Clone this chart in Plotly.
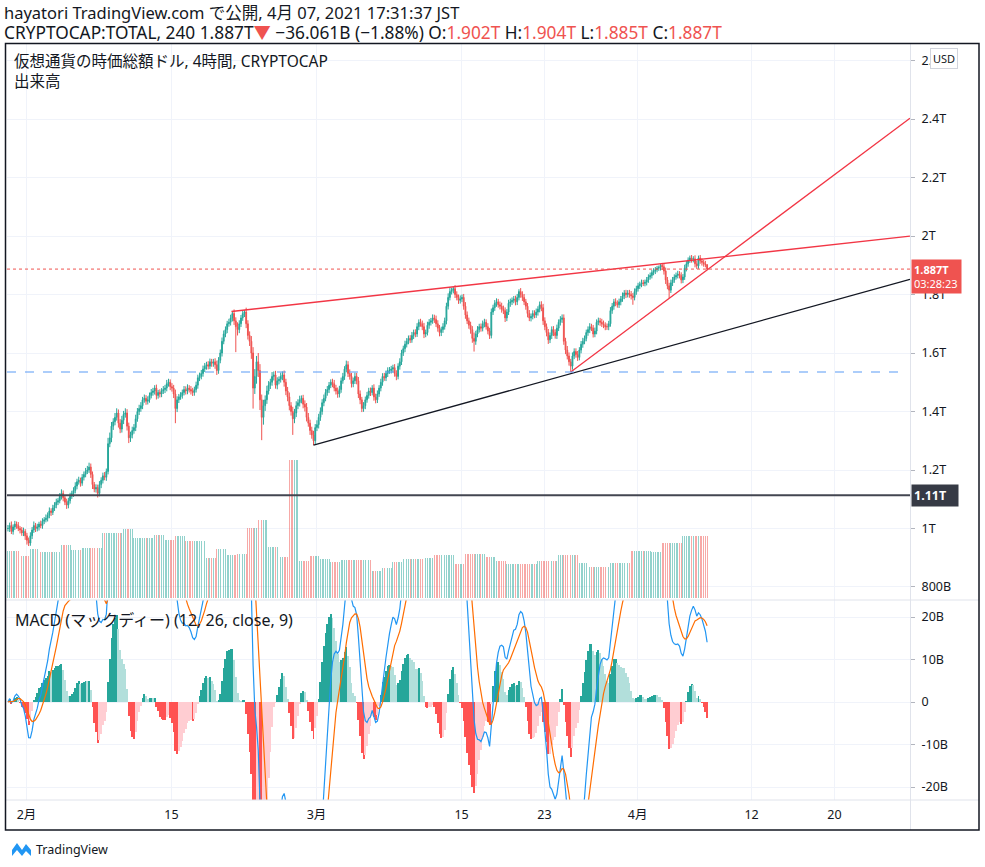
import numpy as np
import pandas as pd
import plotly.graph_objects as go

# ---- data (values in billions of USD) ----
# 4h closes, JST, first candle 2021-01-30 05:00, one row per day
first_open = 1000
closes = [
    1000, 1010, 990, 1005, 1015,
    1010, 1000, 995, 985, 990, 975,
    960, 950, 975, 995, 1010, 1000,
    1005, 1015, 1010, 1025, 1030, 1035,
    1045, 1060, 1055, 1070, 1080, 1090,
    1095, 1110, 1120, 1105, 1090, 1080,
    1095, 1110, 1120, 1130, 1145, 1160,
    1165, 1155, 1175, 1185, 1195, 1200,
    1210, 1185, 1150, 1135, 1140, 1120,
    1150, 1165, 1180, 1175, 1195, 1290,
    1310, 1350, 1365, 1380, 1395, 1360,
    1340, 1370, 1390, 1395, 1350, 1310,
    1320, 1335, 1345, 1375, 1400, 1410,
    1420, 1440, 1445, 1435, 1440, 1455,
    1465, 1470, 1480, 1455, 1465, 1460,
    1470, 1475, 1480, 1495, 1500, 1485,
    1480, 1460, 1410, 1440, 1450, 1455,
    1465, 1475, 1470, 1480, 1475, 1470,
    1465, 1475, 1490, 1515, 1520, 1530,
    1545, 1555, 1560, 1555, 1570, 1565,
    1570, 1560, 1540, 1575, 1600, 1640,
    1665, 1680, 1700, 1705, 1720, 1735,
    1710, 1690, 1680, 1700, 1720, 1735,
    1740, 1700, 1660, 1640, 1600, 1480,
    1520, 1570, 1540, 1440, 1380, 1420,
    1440, 1470, 1490, 1500, 1520, 1525,
    1490, 1505, 1510, 1520, 1525, 1500,
    1470, 1450, 1420, 1400, 1375, 1395,
    1420, 1430, 1440, 1445, 1425, 1415,
    1380, 1360, 1335, 1320, 1300, 1345,
    1355, 1380, 1400, 1430, 1445, 1465,
    1475, 1490, 1500, 1495, 1480, 1470,
    1460, 1475, 1505, 1520, 1545, 1560,
    1530, 1520, 1495, 1505, 1520, 1505,
    1460, 1440, 1410, 1420, 1440, 1455,
    1470, 1465, 1480, 1450, 1440, 1460,
    1480, 1500, 1520, 1515, 1530, 1540,
    1540, 1545, 1550, 1530, 1520, 1555,
    1570, 1600, 1615, 1630, 1640, 1650,
    1645, 1660, 1670, 1665, 1690, 1705,
    1700, 1690, 1665, 1670, 1695, 1705,
    1710, 1720, 1715, 1700, 1685, 1670,
    1680, 1690, 1710, 1760, 1790, 1810,
    1815, 1820, 1800, 1790, 1780, 1785,
    1790, 1760, 1730, 1710, 1695, 1680,
    1650, 1640, 1665, 1680, 1690, 1685,
    1700, 1705, 1690, 1675, 1660, 1740,
    1755, 1770, 1775, 1765, 1760, 1750,
    1745, 1720, 1740, 1770, 1775, 1780,
    1785, 1775, 1790, 1810, 1800, 1790,
    1775, 1760, 1735, 1720, 1725, 1735,
    1730, 1740, 1750, 1765, 1755, 1710,
    1690, 1670, 1645, 1660, 1680, 1670,
    1660, 1685, 1705, 1715, 1720, 1640,
    1610, 1590, 1570, 1555, 1590, 1605,
    1595, 1585, 1610, 1630, 1640, 1650,
    1670, 1680, 1690, 1685, 1665, 1675,
    1705, 1710, 1705, 1700, 1695, 1690,
    1690, 1700, 1745, 1760, 1775, 1770,
    1765, 1775, 1785, 1795, 1805, 1800,
    1805, 1800, 1795, 1790, 1810, 1820,
    1830, 1835, 1840, 1838, 1842, 1850,
    1860, 1865, 1875, 1880, 1885, 1890,
    1892, 1900, 1895, 1880, 1850, 1830,
    1815, 1840, 1850, 1860, 1865, 1870,
    1865, 1850, 1860, 1890, 1905, 1918,
    1925, 1920, 1922, 1905, 1898, 1925,
    1915, 1910, 1905, 1902, 1887,
]
# wick above max(open, close)
wick_up = [
    12, 10, 14, 9, 11,
    9, 12, 8, 10, 13, 8,
    10, 9, 12, 10, 14, 9,
    11, 8, 12, 10, 9, 13,
    10, 12, 9, 11, 10, 12,
    9, 11, 14, 10, 8, 12,
    10, 12, 9, 11, 13, 10,
    12, 9, 11, 10, 12, 14,
    15, 12, 10, 9, 11, 10,
    12, 10, 11, 13, 10, 20,
    18, 14, 12, 15, 16, 12,
    14, 15, 12, 16, 13, 12,
    11, 13, 12, 14, 12, 13,
    12, 10, 13, 11, 12, 10,
    12, 11, 10, 12, 9, 11,
    10, 12, 11, 13, 12, 10,
    12, 11, 15, 12, 10, 11,
    10, 12, 11, 13, 10, 12,
    11, 10, 12, 11, 13, 12,
    12, 11, 10, 12, 11, 10,
    10, 12, 14, 11, 12, 13,
    12, 11, 10, 12, 11, 9,
    14, 12, 15, 12, 10, 11,
    7, 15, 12, 14, 18, 20,
    25, 20, 30, 22, 18, 20,
    15, 18, 14, 12, 15, 12,
    14, 12, 10, 13, 12, 15,
    12, 14, 15, 12, 16, 14,
    15, 12, 14, 10, 12, 13,
    14, 15, 12, 13, 14, 12,
    15, 12, 14, 12, 13, 12,
    12, 11, 10, 12, 13, 11,
    12, 13, 11, 12, 10, 14,
    12, 14, 12, 11, 13, 12,
    13, 12, 10, 12, 11, 12,
    11, 12, 10, 13, 11, 12,
    10, 12, 11, 12, 10, 11,
    12, 11, 10, 12, 11, 10,
    12, 11, 10, 12, 11, 10,
    11, 12, 10, 11, 12, 10,
    12, 11, 13, 10, 12, 11,
    10, 12, 11, 13, 12, 11,
    10, 12, 11, 12, 14, 12,
    8, 6, 12, 11, 10, 12,
    10, 12, 14, 12, 11, 12,
    12, 20, 11, 12, 10, 11,
    11, 12, 10, 12, 11, 12,
    10, 11, 12, 10, 11, 12,
    12, 11, 10, 12, 11, 10,
    10, 11, 12, 8, 12, 11,
    12, 10, 11, 12, 10, 11,
    11, 12, 10, 11, 12, 13,
    12, 11, 12, 10, 11, 12,
    11, 12, 10, 11, 12, 12,
    12, 14, 12, 10, 12, 11,
    11, 12, 10, 11, 12, 10,
    10, 11, 12, 10, 11, 12,
    10, 11, 10, 12, 11, 10,
    11, 10, 12, 11, 10, 12,
    10, 11, 10, 12, 10, 11,
    10, 11, 12, 10, 11, 10,
    10, 9, 11, 10, 9, 10,
    9, 10, 9, 10, 9, 8,
    7, 4, 8, 10, 12, 10,
    10, 11, 10, 9, 10, 11,
    10, 11, 10, 12, 10, 9,
    8, 10, 9, 12, 10, 8,
    10, 9, 8, 10, 2,
]
# wick below min(open, close)
wick_dn = [
    10, 12, 9, 11, 10,
    11, 9, 12, 10, 11, 14,
    15, 10, 9, 11, 10, 12,
    10, 12, 9, 11, 10, 9,
    11, 10, 12, 9, 10, 11,
    10, 9, 11, 12, 10, 13,
    11, 10, 9, 12, 10, 11,
    10, 12, 9, 11, 10, 9,
    10, 12, 15, 11, 12, 14,
    10, 12, 11, 10, 12, 10,
    12, 15, 13, 12, 11, 15,
    14, 12, 13, 11, 15, 18,
    14, 12, 11, 12, 10, 12,
    11, 12, 10, 12, 11, 10,
    10, 11, 12, 14, 11, 12,
    11, 10, 12, 11, 10, 12,
    12, 14, 50, 12, 11, 10,
    11, 10, 12, 11, 10, 12,
    12, 11, 10, 12, 11, 10,
    11, 10, 12, 11, 10, 12,
    12, 14, 15, 11, 10, 12,
    10, 11, 12, 10, 11, 12,
    14, 87, 20, 12, 11, 10,
    12, 15, 14, 16, 20, 70,
    20, 25, 22, 35, 78, 25,
    18, 14, 12, 13, 12, 14,
    12, 14, 12, 11, 13, 15,
    14, 15, 16, 14, 55, 15,
    14, 12, 13, 12, 14, 15,
    14, 12, 15, 13, 15, 12,
    12, 13, 12, 11, 12, 10,
    11, 12, 10, 12, 11, 12,
    13, 12, 11, 10, 12, 11,
    12, 11, 13, 12, 11, 12,
    14, 15, 12, 11, 12, 10,
    11, 12, 10, 13, 12, 11,
    10, 11, 12, 10, 11, 12,
    11, 10, 12, 11, 13, 10,
    12, 11, 10, 12, 11, 10,
    11, 10, 12, 11, 10, 12,
    10, 12, 14, 11, 10, 12,
    11, 10, 12, 11, 12, 13,
    12, 11, 10, 12, 11, 10,
    10, 11, 12, 10, 12, 11,
    11, 12, 13, 11, 12, 14,
    15, 35, 12, 11, 10, 12,
    11, 12, 10, 11, 12, 10,
    10, 11, 12, 10, 11, 12,
    12, 14, 11, 10, 12, 11,
    10, 12, 11, 10, 11, 12,
    11, 12, 13, 11, 12, 10,
    11, 10, 12, 11, 12, 14,
    12, 13, 14, 11, 12, 12,
    11, 12, 10, 11, 12, 12,
    14, 12, 13, 20, 12, 11,
    11, 12, 10, 11, 12, 10,
    10, 11, 12, 10, 12, 11,
    11, 10, 12, 11, 10, 12,
    11, 12, 10, 11, 12, 10,
    10, 11, 12, 10, 11, 12,
    10, 11, 12, 25, 10, 11,
    10, 11, 10, 9, 10, 11,
    10, 9, 10, 9, 10, 9,
    9, 10, 11, 12, 14, 12,
    27, 10, 11, 10, 9, 10,
    10, 12, 11, 10, 11, 10,
    10, 11, 10, 12, 11, 10,
    10, 11, 10, 9, 2,
]
# daily volume (UTC days from 2021-01-29), relative units
volume_start = "2021-01-29"
daily_volume = [
    47, 47, 42,
    49, 46, 46, 53, 48, 50, 50, 65, 65, 69, 60, 60, 63, 58,
    62, 57, 57, 40, 49, 43, 44, 70, 78, 51, 41, 138, 37, 42,
    39, 36, 38, 38, 38, 27, 30, 36, 39, 39, 40, 43, 43, 34, 44,
    44, 41, 37, 34, 34, 34, 37, 37, 43, 43, 35, 31, 31, 35, 35, 47,
    47, 46, 55, 55, 62, 62, 62,
]

x_tickvals = ["2021-02-01", "2021-02-15", "2021-03-01", "2021-03-15",
              "2021-03-23", "2021-04-01", "2021-04-12", "2021-04-20"]
x_ticktext = ["2月", "15", "3月", "15", "23", "4月", "12", "20"]
price_tickvals = [800, 1000, 1200, 1400, 1600, 1800, 2000, 2200, 2400, 2600]
price_ticktext = ["800B", "1T", "1.2T", "1.4T", "1.6T", "1.8T", "2T", "2.2T", "2.4T", "2.6T"]
macd_tickvals = [-20, -10, 0, 10, 20]
macd_ticktext = ["-20B", "-10B", "0", "10B", "20B"]

# drawings: (start date, start price, end date, end price)
red_top = ("2021-02-20 19:00", 1742, "2021-04-27 07:00", 2000)
red_rise = ("2021-03-25 13:00", 1535, "2021-04-27 07:00", 2403)
black_rise = ("2021-02-28 17:00", 1285, "2021-04-27 07:00", 1852)
blue_level = 1535
black_level = 1114
last_price = 1887

# ---- geometry, in screenshot px ----
W, H = 985, 867
L, R, T, B = 7, 910, 43, 800
SPLIT = 600


def px(x):
    return (x - L) / (R - L)


def py(y):
    return (B - y) / (B - T)


UP, DN = "#26a69a", "#ef5350"
TXT = "#131722"
GRID = "#f0f3fa"
FONT = "Noto Sans, Noto Sans CJK JP, sans-serif"

t = pd.date_range("2021-01-30 05:00", periods=len(closes), freq="4h")
close = np.array(closes, dtype=float)
opens = np.concatenate([[first_open], close[:-1]])
highs = np.maximum(opens, close) + np.array(wick_up)
lows = np.minimum(opens, close) - np.array(wick_dn)

utc_day = (t - pd.Timedelta(hours=9)).normalize()
day_idx = (utc_day - pd.Timestamp(volume_start)).days
vol = np.array(daily_volume)[day_idx]
vol_col = np.where(close >= opens, "rgba(38,166,154,0.5)", "rgba(239,83,80,0.5)")

s = pd.Series(close)
macd = s.ewm(span=12, adjust=False).mean() - s.ewm(span=26, adjust=False).mean()
signal = macd.ewm(span=9, adjust=False).mean()
hist = (macd - signal).values
prev = np.concatenate([[hist[0]], hist[:-1]])
hist_col = np.where(hist >= 0,
                    np.where(hist > prev, "#26a69a", "#b2dfdb"),
                    np.where(hist > prev, "#ffcdd2", "#ff5252"))

bar_w = 4 * 3600 * 1000 * 0.55

fig = go.Figure()
fig.add_trace(go.Bar(x=t, y=vol, marker_color=vol_col, marker_line_width=0,
                     width=bar_w, xaxis="x", yaxis="y", showlegend=False))
fig.add_trace(go.Candlestick(
    x=t, open=opens, high=highs, low=lows, close=close,
    increasing=dict(line=dict(color=UP, width=1), fillcolor=UP),
    decreasing=dict(line=dict(color=DN, width=1), fillcolor=DN),
    whiskerwidth=0, xaxis="x", yaxis="y3", showlegend=False))
fig.add_trace(go.Bar(x=t, y=hist, marker_color=hist_col, marker_line_width=0,
                     width=bar_w, xaxis="x2", yaxis="y2", showlegend=False))
fig.add_trace(go.Scatter(x=t, y=macd, mode="lines", line=dict(color="#2196f3", width=1.2),
                         xaxis="x2", yaxis="y2", showlegend=False))
fig.add_trace(go.Scatter(x=t, y=signal, mode="lines", line=dict(color="#ff6d00", width=1.2),
                         xaxis="x2", yaxis="y2", showlegend=False))

x_range = ["2021-01-30 02:50", "2021-04-27 07:06"]
split_dom = py(SPLIT)
tick_font = dict(size=12.5, color=TXT)

fig.update_layout(
    width=W, height=H, autosize=False,
    margin=dict(l=L, r=W - R, t=T, b=H - B),
    paper_bgcolor="white", plot_bgcolor="white",
    font=dict(family=FONT, color=TXT, size=12),
    bargap=0,
    xaxis=dict(domain=[0, 1], anchor="y", type="date", range=x_range,
               tickvals=x_tickvals, showticklabels=False, showgrid=True,
               gridcolor=GRID, zeroline=False, rangeslider=dict(visible=False),
               showline=False, ticks=""),
    xaxis2=dict(domain=[0, 1], anchor="y2", type="date", matches="x", range=x_range,
                tickvals=x_tickvals, ticktext=x_ticktext, showgrid=True,
                gridcolor=GRID, zeroline=False, ticks="", ticklabelstandoff=5,
                tickfont=tick_font),
    yaxis=dict(domain=[split_dom, 1], anchor="x", range=[-2, 555], visible=False,
               fixedrange=True),
    yaxis3=dict(overlaying="y", anchor="x", side="right", range=[755.5, 2660],
                tickvals=price_tickvals, ticktext=price_ticktext, showgrid=True,
                gridcolor=GRID, zeroline=False, ticks="outside", ticklen=4,
                tickcolor="#b2b5be", ticklabelstandoff=4, tickfont=tick_font),
    yaxis2=dict(domain=[0, split_dom], anchor="x2", side="right", range=[-23.06, 24.0],
                tickvals=macd_tickvals, ticktext=macd_ticktext, showgrid=True,
                gridcolor=GRID, zeroline=False, ticks="outside", ticklen=4,
                tickcolor="#b2b5be", ticklabelstandoff=4, tickfont=tick_font),
)

shapes = []
for x0, y0, x1, y1 in [red_top, red_rise]:
    shapes.append(dict(type="line", xref="x", yref="y3", x0=x0, y0=y0, x1=x1, y1=y1,
                       line=dict(color="#f23645", width=1.3)))
x0, y0, x1, y1 = black_rise
shapes.append(dict(type="line", xref="x", yref="y3", x0=x0, y0=y0, x1=x1, y1=y1,
                   line=dict(color="#131722", width=1.3)))
shapes.append(dict(type="line", xref="paper", yref="y3", x0=0, x1=0.995, y0=blue_level,
                   y1=blue_level, line=dict(color="#5b9cf6", width=1.2, dash="dash")))
shapes.append(dict(type="line", xref="paper", yref="y3", x0=0, x1=1, y0=last_price,
                   y1=last_price, line=dict(color="#ef5350", width=1, dash="dot")))
shapes.append(dict(type="line", xref="paper", yref="y3", x0=0, x1=1, y0=black_level,
                   y1=black_level, line=dict(color="#434651", width=2)))

# frame and pane separators
sep = "#e0e3eb"
shapes += [
    dict(type="line", xref="paper", yref="paper", x0=px(5), x1=px(979), y0=py(SPLIT), y1=py(SPLIT),
         line=dict(color=sep, width=1)),
    dict(type="line", xref="paper", yref="paper", x0=px(5), x1=px(979), y0=py(800), y1=py(800),
         line=dict(color=sep, width=1)),
    dict(type="line", xref="paper", yref="paper", x0=px(910.5), x1=px(910.5), y0=py(43), y1=py(830),
         line=dict(color=sep, width=1)),
    dict(type="rect", xref="paper", yref="paper", x0=px(5.5), x1=px(979), y0=py(43.5), y1=py(830),
         line=dict(color="#131722", width=1.5)),
]

# TradingView logo
logo = [(12, 856), (12, 850), (17, 843), (22, 850), (26, 844), (31, 850), (31, 856), (26, 851),
        (22, 856), (17, 850)]
path = "M " + " L ".join(f"{px(a):.5f},{py(b):.5f}" for a, b in logo) + " Z"
shapes.append(dict(type="path", xref="paper", yref="paper", path=path,
                   fillcolor="#2196f3", line=dict(width=0)))
fig.update_layout(shapes=shapes)

red = "#ef5350"
ann = []


def text(x, y, s, size=14, color=TXT, **kw):
    ann.append(dict(xref="paper", yref="paper", x=px(x), y=py(y), text=s, showarrow=False,
                    xanchor=kw.pop("xanchor", "left"), yanchor=kw.pop("yanchor", "middle"),
                    font=dict(size=size, color=color, family=FONT), **kw))


text(3, 12, "hayatori TradingView.com で公開, 4月 07, 2021 17:31:37 JST", size=16.5,
     borderpad=0)
text(3, 33, "CRYPTOCAP:TOTAL, 240 1.887T"
     f"<span style='color:{red}'>▼</span> −36.061B (−1.88%) "
     f"O:<span style='color:{red}'>1.902T</span> H:<span style='color:{red}'>1.904T</span> "
     f"L:<span style='color:{red}'>1.885T</span> C:<span style='color:{red}'>1.887T</span>",
     size=17.3, borderpad=0)
text(13, 61, "仮想通貨の時価総額ドル, 4時間, CRYPTOCAP", size=15.5, borderpad=0)
text(13, 81, "出来高", size=15.5, borderpad=0)
text(13, 620, "MACD (マックディー) (12, 26, close, 9)", size=16)
text(944, 59, "USD", size=11, xanchor="center", bgcolor="white", bordercolor="#d1d4dc",
     borderwidth=1, borderpad=2)
text(911, 276, "<b>1.887T</b><br>03:28:23", size=11, color="white", bgcolor=red,
     borderpad=2, align="left", width=45)
text(911, 495, "<b>1.11T</b>", size=12.5, color="white", bgcolor="#363a45", borderpad=2,
     align="left", width=42)
text(34, 849, "TradingView", size=12.5)
fig.update_layout(annotations=ann)

# the page body has a default 8px margin; drop it so the figure fills the window
fig.write_html("out.html", config={"displayModeBar": False},
               post_script="document.body.style.margin = '0px';")
